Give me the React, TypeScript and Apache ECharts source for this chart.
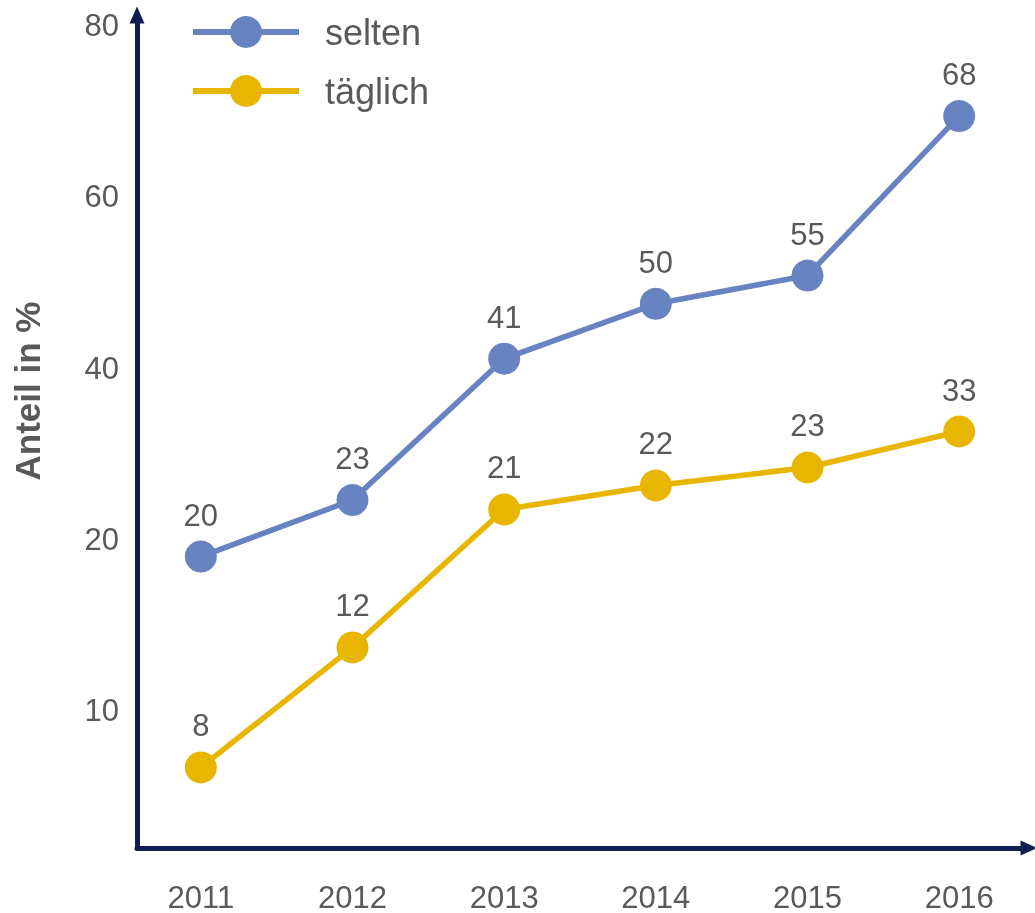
import React, { useEffect, useRef } from "react";
import * as echarts from "echarts";

// Categories (x axis)
const years = ["2011", "2012", "2013", "2014", "2015", "2016"];

// Values printed above the points
const seltenShown = [20, 23, 41, 50, 55, 68];
const taeglichShown = [8, 12, 21, 22, 23, 33];

// Heights of the points, read against the printed y axis
const seltenLevel = [19.0, 24.6, 41.1, 47.5, 50.8, 69.4];
const taeglichLevel = [6.7, 13.7, 23.5, 26.3, 28.4, 32.6];

// Printed y-axis tick labels (equally spaced on the axis)
const yTickLabels = [10, 20, 40, 60, 80];

const TICK_START = 4; // axis unit of the first tick
const TICK_STEP = 5; // axis units between ticks
const AXIS_MAX = 24.3;

// map a value read against the printed ticks onto the axis units
function toAxis(v: number): number {
  const t = yTickLabels;
  let i = 0;
  if (v <= t[0]) i = 0;
  else if (v >= t[t.length - 1]) i = t.length - 2;
  else {
    while (i < t.length - 2 && v > t[i + 1]) i++;
  }
  const frac = (v - t[i]) / (t[i + 1] - t[i]);
  return TICK_START + TICK_STEP * (i + frac);
}

const FONT = '"Liberation Sans", Arial, Helvetica, sans-serif';
const TEXT = "#595959";
const AXIS = "#101e52";
const BLUE = "#6883c1";
const YELLOW = "#e8b600";

export default function App() {
  const ref = useRef<HTMLDivElement>(null);

  useEffect(() => {
    if (!ref.current) return;
    const chart = echarts.init(ref.current, null, { renderer: "svg" });

    const tickMap: Record<string, string> = {};
    yTickLabels.forEach((l, i) => {
      tickMap[String(TICK_START + TICK_STEP * i)] = String(l);
    });

    const seriesLabel = (shown: number[]) => ({
      show: true,
      position: "top" as const,
      distance: 10,
      color: TEXT,
      fontSize: 31,
      fontFamily: FONT,
      formatter: (p: any) => String(shown[p.dataIndex]),
    });

    chart.setOption({
      animation: false,
      textStyle: { fontFamily: FONT },
      grid: [
        { left: 125, width: 913.2, top: 15, bottom: 65, containLabel: false },
        { left: 137, right: 6, top: 15, bottom: 65, containLabel: false },
      ],
      legend: {
        orient: "vertical",
        left: 190,
        top: 14,
        padding: 0,
        itemWidth: 106,
        itemHeight: 40,
        itemGap: 23,
        lineStyle: { width: 6 },
        textStyle: {
          color: TEXT,
          fontSize: 36,
          fontFamily: FONT,
          padding: [0, 0, 0, 21],
        },
        data: ["selten", "täglich"],
      },
      xAxis: [
        {
          type: "category",
          gridIndex: 0,
          data: years,
          boundaryGap: true,
          axisLine: { show: false },
          axisTick: { show: false },
          splitLine: { show: false },
          axisLabel: {
            color: TEXT,
            fontSize: 31,
            lineHeight: 30,
            fontFamily: FONT,
            margin: 34,
          },
        },
        {
          type: "value",
          gridIndex: 1,
          min: 0,
          max: 1,
          axisLine: {
            show: true,
            lineStyle: { color: AXIS, width: 5 },
            symbol: ["none", "triangle"],
            symbolSize: [15, 17],
          },
          axisTick: { show: false },
          axisLabel: { show: false },
          splitLine: { show: false },
        },
      ],
      yAxis: [
        {
          type: "value",
          gridIndex: 0,
          min: 0,
          max: AXIS_MAX,
          axisLine: { show: false },
          axisTick: { show: false },
          axisLabel: { show: false },
          splitLine: { show: false },
        },
        {
          type: "value",
          gridIndex: 1,
          min: 0,
          max: AXIS_MAX,
          interval: 1,
          axisLine: {
            show: true,
            lineStyle: { color: AXIS, width: 5 },
            symbol: ["none", "triangle"],
            symbolSize: [15, 17],
          },
          axisTick: { show: false },
          splitLine: { show: false },
          axisLabel: {
            color: TEXT,
            fontSize: 31,
            fontFamily: FONT,
            margin: 18,
            formatter: (v: number) => tickMap[String(v)] ?? "",
          },
        },
      ],
      graphic: [
        {
          type: "text",
          x: 27,
          y: 391,
          rotation: Math.PI / 2,
          style: {
            text: "Anteil in %",
            fill: TEXT,
            fontSize: 35,
            fontWeight: "bold",
            fontFamily: FONT,
            textAlign: "center",
            textVerticalAlign: "middle",
          },
        },
      ],
      series: [
        {
          name: "selten",
          type: "line",
          xAxisIndex: 0,
          yAxisIndex: 0,
          data: seltenLevel.map(toAxis),
          symbol: "circle",
          symbolSize: 32,
          lineStyle: { color: BLUE, width: 5.5 },
          itemStyle: { color: BLUE },
          label: seriesLabel(seltenShown),
        },
        {
          name: "täglich",
          type: "line",
          xAxisIndex: 0,
          yAxisIndex: 0,
          data: taeglichLevel.map(toAxis),
          symbol: "circle",
          symbolSize: 32,
          lineStyle: { color: YELLOW, width: 5.5 },
          itemStyle: { color: YELLOW },
          label: seriesLabel(taeglichShown),
        },
      ],
    });

    return () => chart.dispose();
  }, []);

  return (
    <div
      ref={ref}
      style={{ position: "fixed", left: 0, top: 0, width: 1035, height: 913 }}
    />
  );
}
